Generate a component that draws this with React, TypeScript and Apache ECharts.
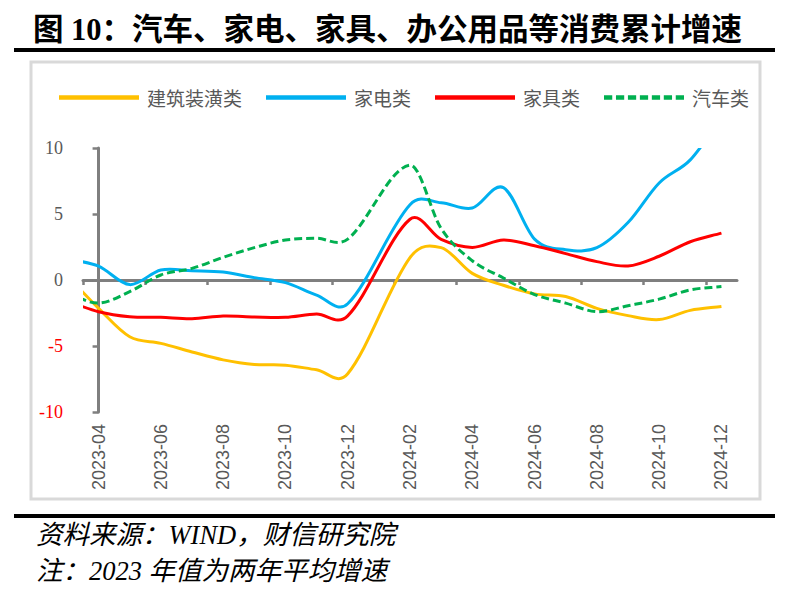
import { useEffect, useRef } from "react";
import * as echarts from "echarts";

// monthly points; 2024-01 is not published (Jan-Feb combined)
const months = [
  "2023-03", "2023-04", "2023-05", "2023-06", "2023-07", "2023-08", "2023-09",
  "2023-10", "2023-11", "2023-12", "2024-02", "2024-03", "2024-04", "2024-05",
  "2024-06", "2024-07", "2024-08", "2024-09", "2024-10", "2024-11", "2024-12",
];

const buildingDecor = [0.3, -2.15, -4.3, -4.8, -5.45, -6.05, -6.4, -6.45, -6.8, -7.1, 1.7, 2.45, 0.5, -0.4, -1.05, -1.25, -2.15, -2.7, -3.0, -2.3, -2.0];
const appliances = [1.6, 1.05, -0.35, 0.76, 0.7, 0.6, 0.18, -0.2, -1.14, -1.8, 5.7, 5.85, 5.45, 7.0, 3.1, 2.3, 2.45, 4.35, 7.35, 9.1, 12.3];
const furniture = [-1.6, -2.4, -2.78, -2.83, -2.93, -2.73, -2.8, -2.83, -2.58, -2.72, 4.6, 3.08, 2.47, 3.03, 2.6, 2.0, 1.39, 1.06, 1.8, 2.9, 3.55];
const autos = [-1.0, -1.75, -0.88, 0.38, 0.88, 1.72, 2.45, 3.03, 3.16, 3.1, 8.7, 3.9, 1.46, 0.15, -1.1, -1.75, -2.4, -1.95, -1.45, -0.75, -0.5];

const tickMonths = ["2023-04", "2023-06", "2023-08", "2023-10", "2023-12", "2024-02", "2024-04", "2024-06", "2024-08", "2024-10", "2024-12"];
const yTicks = [-10, -5, 0, 5, 10];

const TITLE = "图 10：汽车、家电、家具、办公用品等消费累计增速";
const SOURCE = "资料来源：WIND，财信研究院";
const NOTE = "注：2023 年值为两年平均增速";

// month string -> position on the x scale (2023-04 = 0)
const idx = (m: string) => {
  const [y, mo] = m.split("-").map(Number);
  return (y - 2023) * 12 + (mo - 4);
};

const serif = "'Liberation Serif', 'Noto Sans CJK SC', serif";
const cjk = "'Noto Sans CJK SC', sans-serif";
const gray = "#7f7f7f";

// dotted legend sample (7 square dashes)
const dotIcon =
  "path://" +
  Array.from({ length: 7 }, (_, k) => `M${(k * 11.6).toFixed(1)},0h8v4h-8z`).join("");

function Chart() {
  const ref = useRef<HTMLDivElement>(null);
  useEffect(() => {
    if (!ref.current) return;
    document.body.style.margin = "0";
    const chart = echarts.init(ref.current, undefined, { renderer: "svg" });

    // Excel-like smoothed line: cubic Hermite through the data points (pixel space)
    const mk = (name: string, vals: number[], color: string, dashed = false) => {
      const pts = months.map((m, k) => [idx(m), vals[k]]);
      return {
        name,
        type: "custom",
        xAxisIndex: 0,
        data: pts,
        encode: { x: 0, y: 1 },
        itemStyle: { color },
        renderItem: (params: any, api: any) => {
          if (params.dataIndex !== 0) return null;
          const p = pts.map((d) => api.coord(d));
          const n = p.length;
          const slope = p.map((_, i) => {
            const a = p[Math.max(i - 1, 0)];
            const b = p[Math.min(i + 1, n - 1)];
            return (b[1] - a[1]) / (b[0] - a[0]);
          });
          let d = `M${p[0][0]},${p[0][1]}`;
          for (let i = 0; i < n - 1; i++) {
            const h = (p[i + 1][0] - p[i][0]) / 3;
            const c1x = p[i][0] + h;
            const c1y = p[i][1] + slope[i] * h;
            const c2x = p[i + 1][0] - h;
            const c2y = p[i + 1][1] - slope[i + 1] * h;
            d += ` C${c1x},${c1y} ${c2x},${c2y} ${p[i + 1][0]},${p[i + 1][1]}`;
          }
          const cs = params.coordSys;
          return {
            type: "path",
            shape: { pathData: d },
            style: {
              fill: "none",
              stroke: color,
              lineWidth: 3,
              lineDash: dashed ? [8, 4] : null,
              lineJoin: "round",
            },
            clipPath: { type: "rect", shape: { x: cs.x, y: cs.y, width: cs.width, height: cs.height } },
          };
        },
      };
    };

    chart.setOption({
      animation: false,
      graphic: [
        { type: "rect", shape: { x: 14, y: 48, width: 761, height: 4 }, style: { fill: "#000" } },
        { type: "rect", shape: { x: 31, y: 62, width: 729, height: 437 }, style: { fill: "none", stroke: "#d9d9d9", lineWidth: 3 } },
        { type: "rect", shape: { x: 14, y: 514, width: 761, height: 4 }, style: { fill: "#000" } },
        { type: "text", x: 33, y: 30, style: { text: TITLE, fill: "#000", font: `bold 30.5px ${serif}`, verticalAlign: "middle" } },
        { type: "text", x: 36, y: 535, style: { text: SOURCE, fill: "#000", font: `italic 26.5px ${serif}`, verticalAlign: "middle" } },
        { type: "text", x: 36, y: 571, style: { text: NOTE, fill: "#000", font: `italic 26.5px ${serif}`, verticalAlign: "middle" } },
      ],
      legend: {
        left: 54,
        top: 83,
        itemWidth: 80,
        itemHeight: 4.5,
        itemGap: 24,
        symbolKeepAspect: false,
        textStyle: { fontFamily: cjk, fontSize: 19, color: "#595959", padding: [0, 0, 0, 3] },
        data: [
          { name: "建筑装潢类", icon: "rect" },
          { name: "家电类", icon: "rect" },
          { name: "家具类", icon: "rect" },
          { name: "汽车类", icon: dotIcon },
        ],
      },
      grid: { left: 83, right: 50, top: 148, bottom: 177, containLabel: false },
      xAxis: [
        {
          type: "value",
          min: -0.5,
          max: 20.5,
          position: "bottom",
          axisLine: { onZero: true, lineStyle: { color: gray, width: 3 } },
          axisTick: {
            show: true,
            length: 5,
            lineStyle: { color: gray, width: 2.5 },
            customValues: tickMonths.map((m) => idx(m) - 0.5),
          },
          axisLabel: { show: false },
          splitLine: { show: false },
        },
        {
          type: "value",
          min: -0.5,
          max: 20.5,
          position: "bottom",
          axisLine: { show: false, onZero: false },
          axisTick: { show: false },
          splitLine: { show: false },
          axisLabel: {
            rotate: 90,
            margin: 12,
            fontFamily: "'Liberation Sans', Arial, sans-serif",
            fontSize: 18,
            color: "#595959",
            customValues: tickMonths.map(idx),
            formatter: (v: number) => tickMonths.find((m) => idx(m) === v) ?? "",
          },
        },
      ],
      yAxis: {
        type: "value",
        min: -10,
        max: 10,
        interval: 5,
        axisLine: { show: true, lineStyle: { color: gray, width: 3 } },
        axisTick: { show: true, length: 6, lineStyle: { color: gray, width: 2.5 }, customValues: yTicks },
        splitLine: { show: false },
        axisLabel: {
          margin: 20,
          fontFamily: "'Liberation Serif', serif",
          fontSize: 18,
          color: (v: any) => (Number(v) < 0 ? "#ff0000" : "#595959"),
        },
      },
      series: [
        mk("建筑装潢类", buildingDecor, "#ffc000"),
        mk("家电类", appliances, "#00b0f0"),
        mk("家具类", furniture, "#ff0000"),
        mk("汽车类", autos, "#00b050", true),
      ],
    });

    return () => chart.dispose();
  }, []);
  return <div ref={ref} style={{ width: 787, height: 589 }} />;
}

export default function App() {
  return <Chart />;
}
